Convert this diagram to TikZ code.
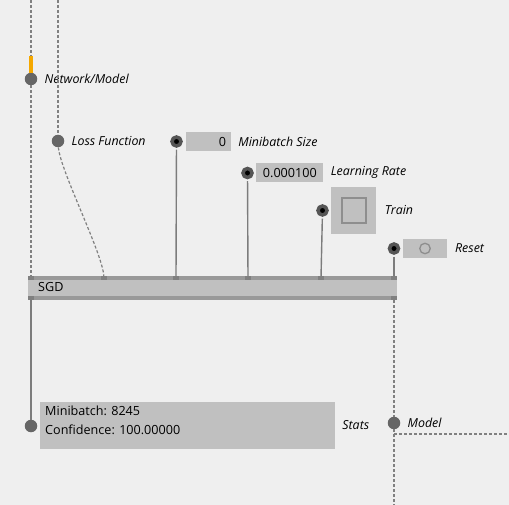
\documentclass[tikz,border=0pt]{standalone}
\usepackage{fontspec}
\setmainfont{Open Sans}
\usetikzlibrary{positioning}
\definecolor{bggray}{HTML}{EFEFEF}
\definecolor{boxgray}{HTML}{C0C0C0}
\definecolor{stripegray}{HTML}{999999}
\definecolor{portdark}{HTML}{808080}
\definecolor{dotgray}{HTML}{666666}
\definecolor{ringgray}{HTML}{555555}
\definecolor{wiregray}{HTML}{7C7C7C}
\definecolor{dashgray}{HTML}{808080}
\definecolor{selorange}{HTML}{F5A800}
\definecolor{knobgray}{HTML}{8E8E8E}

\begin{document}
\begin{tikzpicture}[x=1pt, y=-1pt, font=\fontsize{12.6}{14}\selectfont,
		port/.style={circle, fill=dotgray, minimum size=12.5pt, inner sep=0pt},
		inport/.style={circle, fill=black, draw=ringgray, line width=3.5pt, minimum size=9pt, inner sep=0pt},
		field/.style={fill=boxgray, inner sep=0pt, minimum height=19pt},
		tag/.style={font=\fontsize{12.4}{14}\selectfont\itshape, inner sep=0pt},
		plain/.style={inner sep=0pt, anchor=west},
		wire/.style={draw=wiregray, line width=1.4pt},
		dashwire/.style={draw=dashgray, line width=1.2pt, dash pattern=on 3pt off 2pt},
		barport/.style={fill=portdark, minimum width=6pt, minimum height=4pt, inner sep=0pt}]
		% Background
		\fill[bggray] (0,0) rectangle (509,505);
		\useasboundingbox (0,0) rectangle (509,505);

		% SGD block
		\node[fill=boxgray, minimum width=369pt, minimum height=24pt, inner sep=0pt] (sgd) at (212.5,288) {};
		\fill[stripegray] (sgd.north west) rectangle ([yshift=-4pt]sgd.north east);
		\fill[stripegray] ([yshift=4pt]sgd.south west) rectangle (sgd.south east);
		\node[plain] (sgdname) at (38,287) {SGD};
		\foreach \x/\n in {31/1, 104/2, 176/3, 248/4, 321/5, 394/6}
			\node[barport] (tb\n) at (\x,278) {};
		\foreach \x/\n in {31/1, 394/2}
			\node[barport] (bb\n) at (\x,298) {};

		% Inputs
		\node[port] (net) at (31,79) {};
		\node[tag, right=7pt of net] (netname) {Network/Model};
		\node[port] (loss) at (58,141) {};
		\node[tag, right=7pt of loss] (lossname) {Loss Function};

		\node[inport] (mbsize) at (176.5,141.5) {};
		\node[field, right=2.6pt of mbsize, minimum width=45pt, text width=36pt, align=right] (mbbox) {0};
		\node[tag, right=7.5pt of mbbox] (mbname) {Minibatch Size};

		\node[inport] (lrate) at (247.5,173) {};
		\node[field, right=2.4pt of lrate, minimum width=67pt] (lrbox) {0.000100};
		\node[tag, right=7pt of lrbox, yshift=1pt] (lrname) {Learning Rate};

		\node[inport] (train) at (322.5,210.5) {};
		\node[field, right=2.4pt of train, minimum width=45pt, minimum height=47pt] (trainbox) {};
		\node[draw=knobgray, line width=1.6pt, fill=boxgray, minimum width=24pt, minimum height=25pt, inner sep=0pt] (trainbtn) at (trainbox.center) {};
		\node[tag, right=8pt of trainbox] (trainname) {Train};

		\node[inport] (reset) at (394,248.5) {};
		\node[field, right=2.3pt of reset, minimum width=44.5pt] (resetbox) {};
		\node[circle, draw=knobgray, line width=1.3pt, minimum size=10.5pt, inner sep=0pt] (resetbtn) at (resetbox.center) {};
		\node[tag, right=7.5pt of resetbox] (resetname) {Reset};

		% Outputs
		\node[port] (stats) at (31,426) {};
		\node[fill=boxgray, minimum width=295pt, minimum height=47pt, inner sep=0pt] (statsbox) at (187,425.5) {};
		\node[plain] (mbcount) at (45,411) {Minibatch: 8245};
		\node[plain] (confid) at (45,429.5) {Confidence: 100.00000};
		\node[tag, right=7.5pt of statsbox] (statsname) {Stats};
		\node[port] (model) at (394,423) {};
		\node[tag, right=7pt of model] (modelname) {Model};

		% Wires in
		\coordinate (nettop) at (31,0);
		\coordinate (netsel) at (31,56);
		\coordinate (losstop) at (58,0);
		\draw[dashwire] (nettop) -- (netsel);
		\draw[selorange, line width=4pt] (netsel) -- (net);
		\draw[dashwire] (net) -- (tb1);
		\draw[dashwire] (losstop) -- (loss);
		\draw[dashwire] (loss) .. controls (60,170) and (102,252) .. (tb2);
		\draw[wire, shorten <=1.8pt] (mbsize) -- (tb3);
		\draw[wire, shorten <=1.8pt] (lrate) -- (tb4);
		\draw[wire, shorten <=1.8pt] (train) -- (tb5);
		\draw[wire, shorten <=1.8pt] (reset) -- (tb6);

		% Wires out
		\coordinate (modelbend) at (394,434);
		\coordinate (modelright) at (509,434);
		\coordinate (modelbot) at (394,505);
		\draw[wire] (bb1) -- (stats);
		\draw[dashwire] (bb2) -- (model);
		\draw[dashwire] (model) -- (modelbot);
		\draw[dashwire] (modelbend) -- (modelright);
	\end{tikzpicture}
\end{document}
